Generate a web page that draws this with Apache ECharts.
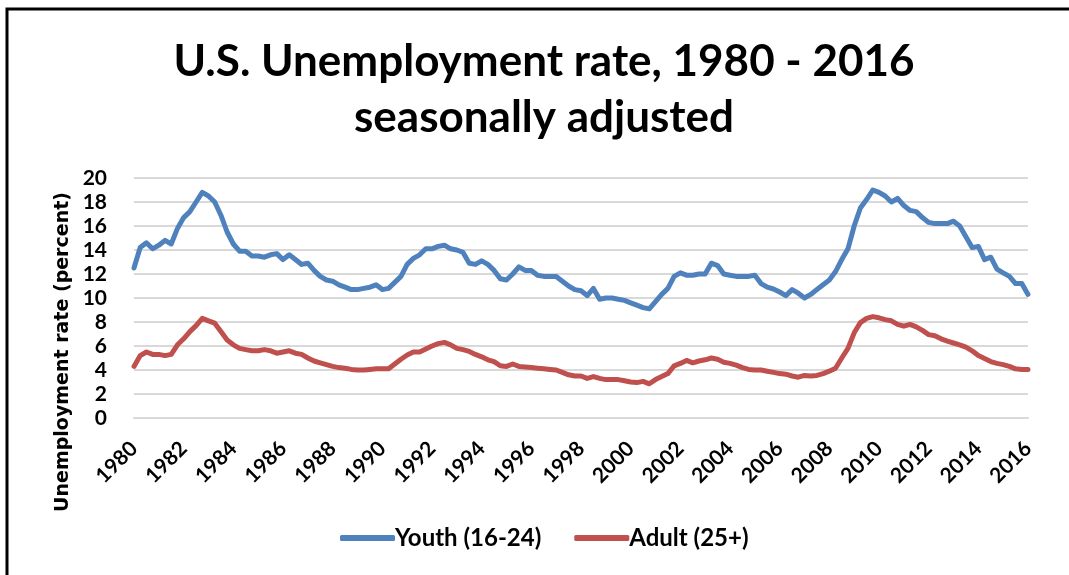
<!DOCTYPE html>
<html>
<head>
<meta charset="utf-8">
<script src="https://cdn.jsdelivr.net/npm/echarts@6/dist/echarts.min.js"></script>
<style>
html,body{margin:0;padding:0;background:#fff;}
#chart{width:1069px;height:575px;}
</style>
</head>
<body>
<div id="chart"></div>
<script>
// Quarterly observations, 1980 Q1 .. 2016 Q1
var startYear = 1980;
var endYear = 2016;
var yTicks = [0, 2, 4, 6, 8, 10, 12, 14, 16, 18, 20];
var youth = [
  12.5, 14.2, 14.6, 14.1, 14.4, 14.8, 14.5, 15.8, 16.7, 17.2, 18.0, 18.8, 18.5, 18.0, 16.9, 15.5,
  14.5, 13.9, 13.9, 13.5, 13.5, 13.4, 13.6, 13.7, 13.2, 13.6, 13.2, 12.8, 12.9, 12.3, 11.8, 11.5,
  11.4, 11.1, 10.9, 10.7, 10.7, 10.8, 10.9, 11.1, 10.7, 10.8, 11.3, 11.8, 12.8, 13.3, 13.6, 14.1,
  14.1, 14.3, 14.4, 14.1, 14.0, 13.8, 12.9, 12.8, 13.1, 12.8, 12.3, 11.6, 11.5, 12.0, 12.6, 12.3,
  12.3, 11.9, 11.8, 11.8, 11.8, 11.4, 11.0, 10.7, 10.6, 10.2, 10.8, 9.9, 10.0, 10.0, 9.9, 9.8,
  9.6, 9.4, 9.2, 9.1, 9.7, 10.3, 10.8, 11.8, 12.1, 11.9, 11.9, 12.0, 12.0, 12.9, 12.7, 12.0,
  11.9, 11.8, 11.8, 11.8, 11.9, 11.2, 10.9, 10.75, 10.5, 10.2, 10.7, 10.4, 10.0, 10.3, 10.7, 11.1,
  11.5, 12.2, 13.2, 14.1, 16.0, 17.5, 18.2, 19.0, 18.8, 18.5, 18.0, 18.3, 17.7, 17.3, 17.2, 16.7,
  16.3, 16.2, 16.2, 16.2, 16.4, 16.0, 15.1, 14.2, 14.3, 13.2, 13.4, 12.4, 12.1, 11.8, 11.2, 11.2,
  10.3
];
var adult = [
  4.3, 5.2, 5.5, 5.3, 5.3, 5.2, 5.3, 6.1, 6.6, 7.2, 7.7, 8.3, 8.1, 7.9, 7.2, 6.5,
  6.1, 5.8, 5.7, 5.6, 5.6, 5.7, 5.6, 5.4, 5.5, 5.6, 5.4, 5.3, 5.0, 4.75, 4.6, 4.45,
  4.3, 4.2, 4.15, 4.05, 4.0, 4.0, 4.05, 4.1, 4.1, 4.1, 4.5, 4.9, 5.25, 5.5, 5.5, 5.75,
  6.0, 6.2, 6.3, 6.1, 5.8, 5.7, 5.55, 5.3, 5.1, 4.85, 4.7, 4.35, 4.3, 4.5, 4.3, 4.25,
  4.2, 4.15, 4.1, 4.05, 4.0, 3.8, 3.6, 3.5, 3.5, 3.3, 3.45, 3.3, 3.2, 3.2, 3.2, 3.1,
  3.0, 2.95, 3.05, 2.85, 3.2, 3.45, 3.7, 4.35, 4.55, 4.8, 4.6, 4.75, 4.85, 5.0, 4.9, 4.65,
  4.55, 4.4, 4.2, 4.05, 4.0, 4.0, 3.9, 3.8, 3.7, 3.65, 3.5, 3.4, 3.55, 3.5, 3.55, 3.7,
  3.9, 4.15, 5.0, 5.8, 7.1, 7.95, 8.3, 8.45, 8.35, 8.2, 8.1, 7.8, 7.65, 7.8, 7.6, 7.3,
  6.95, 6.85, 6.6, 6.4, 6.25, 6.1, 5.9, 5.6, 5.2, 4.95, 4.7, 4.55, 4.45, 4.3, 4.1, 4.05,
  4.05
];
var quarters = [];
for (var y = startYear; y <= endYear; y++) {
  for (var q = 1; q <= 4; q++) {
    if (y === endYear && q > 1) break;
    quarters.push(y + ' Q' + q);
  }
}

var chart = echarts.init(document.getElementById('chart'), null, {renderer: 'canvas'});
var labelFont = 'Lato';
chart.setOption({
  animation: false,
  backgroundColor: '#fff',
  title: {
    text: 'U.S. Unemployment rate, 1980 - 2016\nseasonally adjusted',
    left: 539,
    top: 29,
    textAlign: 'center',
    textStyle: {
      fontFamily: labelFont, fontWeight: 'bold', fontSize: 44, lineHeight: 56, color: '#000'
    }
  },
  grid: {left: 134, right: 41, top: 178, bottom: 157, containLabel: false},
  legend: {
    left: 335,
    top: 521,
    itemGap: 33,
    itemWidth: 55,
    itemHeight: 6,
    icon: 'roundRect',
    textStyle: {fontFamily: labelFont, fontWeight: 'bold', fontSize: 24, color: '#000', padding: [0,0,0,-5]},
    data: ['Youth (16-24)', 'Adult (25+)']
  },
  xAxis: {
    type: 'category',
    data: quarters,
    boundaryGap: false,
    axisLine: {show: true, lineStyle: {color: '#D9D9D9', width: 2}},
    axisTick: {show: false},
    axisLabel: {
      interval: 7,
      rotate: 45,
      margin: 27,
      fontFamily: labelFont, fontWeight: 'bold', fontSize: 21, color: '#000',
      formatter: function (v) { return v.slice(0, 4); }
    },
    splitLine: {show: false}
  },
  yAxis: {
    type: 'value',
    min: yTicks[0],
    max: yTicks[yTicks.length - 1],
    interval: 2,
    axisLine: {show: false},
    axisTick: {show: false},
    axisLabel: {margin: 27, fontFamily: labelFont, fontWeight: 'bold', fontSize: 21, color: '#000'},
    splitLine: {lineStyle: {color: '#D9D9D9', width: 2}}
  },
  graphic: [
    {
      type: 'rect',
      shape: {x: 7, y: 9, width: 1200, height: 700},
      style: {fill: 'none', stroke: '#000', lineWidth: 3},
      silent: true
    },
    {
      type: 'text',
      x: 63, y: 352,
      rotation: Math.PI / 2,
      style: {
        text: 'Unemployment rate (percent)',
        fontFamily: 'DejaVu Sans', fontWeight: 'bold', fontSize: 19,
        fill: '#000', align: 'center', verticalAlign: 'middle'
      }
    }
  ],
  series: [
    {
      name: 'Youth (16-24)', type: 'line', data: youth, symbol: 'none',
      lineStyle: {color: '#4F81BD', width: 5, join: 'round', cap: 'round'},
      itemStyle: {color: '#4F81BD'}
    },
    {
      name: 'Adult (25+)', type: 'line', data: adult, symbol: 'none',
      lineStyle: {color: '#C0504D', width: 5, join: 'round', cap: 'round'},
      itemStyle: {color: '#C0504D'}
    }
  ]
});
</script>
</body>
</html>
